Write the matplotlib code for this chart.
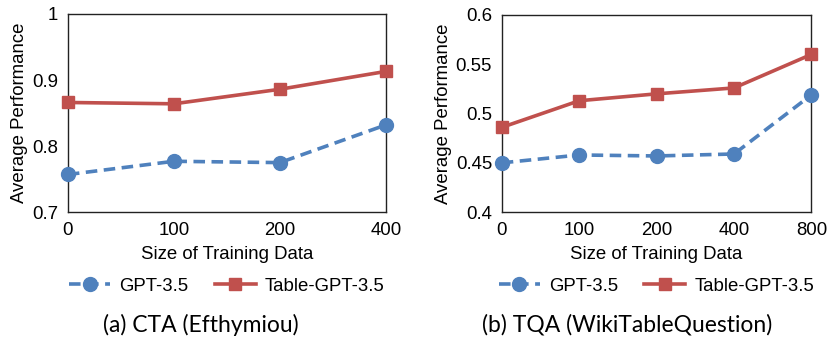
import matplotlib.pyplot as plt

plt.rcParams['font.family'] = ['Liberation Sans', 'DejaVu Sans']

# 数据
cta_sizes = ['0', '100', '200', '400']
cta_gpt = [0.757, 0.777, 0.775, 0.832]
cta_table = [0.866, 0.864, 0.886, 0.913]

tqa_sizes = ['0', '100', '200', '400', '800']
tqa_gpt = [0.450, 0.458, 0.457, 0.459, 0.519]
tqa_table = [0.486, 0.513, 0.520, 0.526, 0.560]

cta_yticks = [0.7, 0.8, 0.9, 1.0]
cta_ylabels = ['0.7', '0.8', '0.9', '1']
tqa_yticks = [0.4, 0.45, 0.5, 0.55, 0.6]
tqa_ylabels = ['0.4', '0.45', '0.5', '0.55', '0.6']

BLUE = '#4F81BD'
RED = '#C0504D'
FS = 13.4


def draw_panel(ax, sizes, gpt, table, yticks, ylabels, caption, cx):
    xs = list(range(len(sizes)))
    ax.plot(xs, gpt, color=BLUE, linewidth=2.6, linestyle=(0, (3.2, 1.8)),
            marker='o', markersize=10, label='GPT-3.5', clip_on=False, zorder=3)
    ax.plot(xs, table, color=RED, linewidth=2.6,
            marker='s', markersize=9, label='Table-GPT-3.5', clip_on=False, zorder=3)
    ax.set_xlim(0, len(sizes) - 1)
    ax.set_ylim(yticks[0], yticks[-1])
    ax.set_xticks(xs)
    ax.set_xticklabels(sizes)
    ax.set_yticks(yticks)
    ax.set_yticklabels(ylabels)
    ax.tick_params(length=0, labelsize=FS, pad=7)
    for s in ax.spines.values():
        s.set_linewidth(1.0)
        s.set_color('#222222')
    ax.set_xlabel('Size of Training Data', fontsize=FS, labelpad=5)
    ax.set_ylabel('Average Performance', fontsize=FS, labelpad=3)
    ax.legend(loc='center', bbox_to_anchor=(0.5, -0.375), ncol=2,
              frameon=False, fontsize=FS, handlelength=2.2,
              columnspacing=1.4, handletextpad=0.5)
    fig.text(cx, 0.044, caption, ha='center', va='center', fontsize=16.5,
             family=['Lato', 'DejaVu Sans'])


fig = plt.figure(figsize=(8.28, 3.4), dpi=100)
ax1 = fig.add_axes([0.082, 0.376, 0.384, 0.583])
ax2 = fig.add_axes([0.606, 0.376, 0.374, 0.580])

draw_panel(ax1, cta_sizes, cta_gpt, cta_table, cta_yticks, cta_ylabels,
           '(a) CTA (Efthymiou)', 0.243)
draw_panel(ax2, tqa_sizes, tqa_gpt, tqa_table, tqa_yticks, tqa_ylabels,
           '(b) TQA (WikiTableQuestion)', 0.758)

fig.savefig('out.png', dpi=100)
